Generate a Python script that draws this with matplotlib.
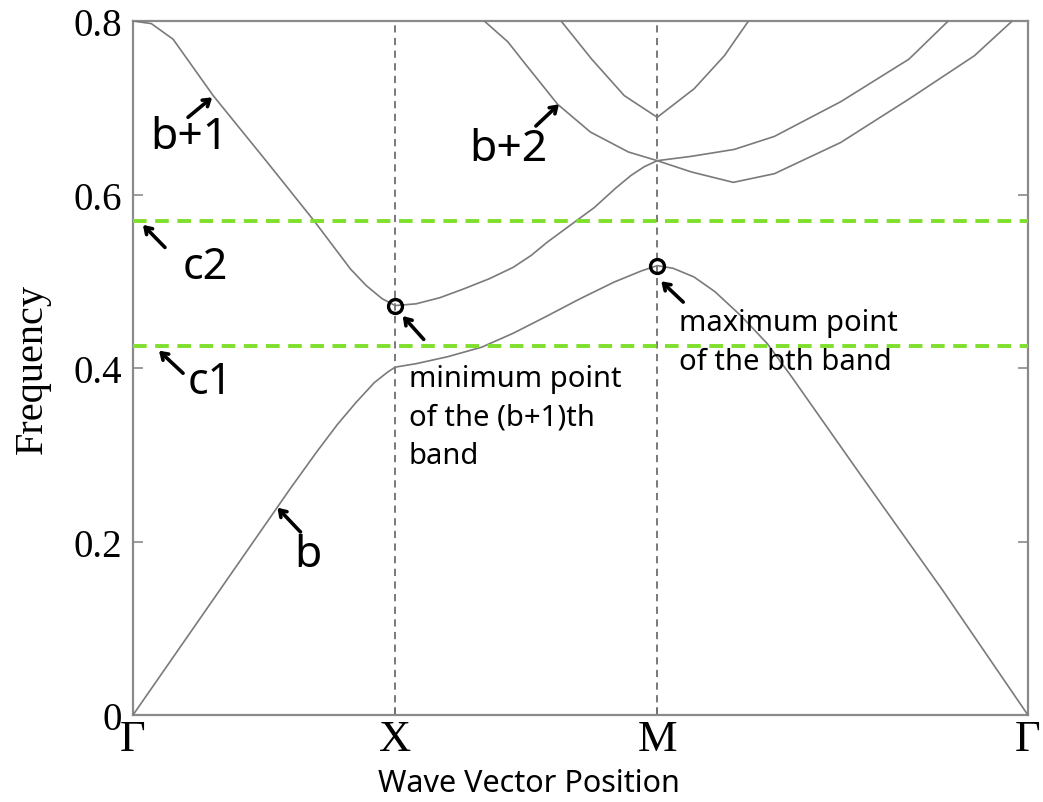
import numpy as np
import matplotlib
matplotlib.use("Agg")
import matplotlib.pyplot as plt

# high-symmetry path Γ-X-M-Γ, distances in units of π/a
kpts = [0.0, 1.0, 2.0, 2.0 + np.sqrt(2)]
klabels = ["Γ", "X", "M", "Γ"]

# b-th band (lowest)
k_b = [0.0, 0.2, 0.4, 0.6, 0.7, 0.78, 0.85, 0.92, 0.97, 1.0, 1.08, 1.2, 1.33, 1.45, 1.58,
       1.7, 1.835, 1.94, 2.0, 2.06, 2.14, 2.22, 2.32, 2.42, 2.51, 2.78, 3.086, 3.414]
f_b = [0.0, 0.087, 0.174, 0.261, 0.303, 0.335, 0.360, 0.383, 0.395, 0.401, 0.405, 0.413,
       0.424, 0.440, 0.460, 0.479, 0.499, 0.512, 0.518, 0.515, 0.505, 0.488, 0.460, 0.428,
       0.391, 0.275, 0.145, 0.0]

# (b+1)-th band
k_b1 = [0.0, 0.07, 0.153, 0.306, 0.51, 0.69, 0.83, 0.89, 0.95, 1.0, 1.08, 1.17, 1.26,
        1.36, 1.45, 1.52, 1.58, 1.67, 1.76, 1.84, 1.9, 1.95, 2.0, 2.13, 2.29, 2.447,
        2.70, 2.96, 3.21, 3.354]
f_b1 = [0.80, 0.797, 0.779, 0.714, 0.638, 0.570, 0.514, 0.495, 0.480, 0.472, 0.474, 0.481,
        0.491, 0.503, 0.516, 0.530, 0.545, 0.565, 0.585, 0.607, 0.622, 0.632, 0.639, 0.626,
        0.614, 0.624, 0.660, 0.710, 0.760, 0.80]

# (b+2)-th band
k_b2 = [1.34, 1.43, 1.49, 1.62, 1.745, 1.89, 2.0, 2.13, 2.294, 2.447, 2.70, 2.96, 3.11]
f_b2 = [0.80, 0.776, 0.753, 0.704, 0.672, 0.649, 0.639, 0.644, 0.652, 0.667, 0.707, 0.756, 0.80]

# (b+3)-th band
k_b3 = [1.633, 1.75, 1.874, 2.0, 2.141, 2.256, 2.348]
f_b3 = [0.80, 0.756, 0.714, 0.689, 0.722, 0.760, 0.80]

# cut-off frequencies
c_levels = [0.425, 0.570]

plt.rcParams["font.family"] = ["Noto Sans", "DejaVu Sans"]

fig = plt.figure(figsize=(10.43, 8.03), dpi=100)
ax = fig.add_axes([0.1275, 0.1083, 0.8581, 0.8643])

line_col = "#7a7a7a"
for k, f in [(k_b, f_b), (k_b1, f_b1), (k_b2, f_b2), (k_b3, f_b3)]:
    ax.plot(k, f, color=line_col, lw=1.2, clip_on=True, zorder=3)

for kx in kpts[1:3]:
    ax.axvline(kx, color="#6e6e6e", lw=1.3, ls=(0, (4, 3)), zorder=2)

for c in c_levels:
    ax.axhline(c, color="#7fe02c", lw=2.8, ls=(0, (3.5, 2.2)), zorder=4)

# band extrema
i_min = int(np.argmin(f_b1[:12]))
i_max = int(np.argmax(f_b))
ax.plot(k_b1[i_min], f_b1[i_min], "o", mfc="none", mec="black", mew=2.4, ms=10, zorder=6)
ax.plot(k_b[i_max], f_b[i_max], "o", mfc="none", mec="black", mew=2.4, ms=10, zorder=6)

arrows = [
    ((0.210, 0.689), (0.302, 0.712)),   # b+1
    ((1.537, 0.679), (1.625, 0.704)),   # b+2
    ((0.122, 0.539), (0.038, 0.565)),   # c2
    ((0.191, 0.394), (0.099, 0.420)),   # c1
    ((0.639, 0.211), (0.551, 0.239)),   # b
    ((1.109, 0.433), (1.029, 0.460)),   # minimum
    ((2.099, 0.476), (2.015, 0.500)),   # maximum
]
for tail, head in arrows:
    ax.annotate("", xy=head, xytext=tail,
                arrowprops=dict(arrowstyle="->,head_length=0.45,head_width=0.3",
                                color="black", lw=2.6, shrinkA=0, shrinkB=0),
                zorder=7)

big = 32
ax.text(0.214, 0.666, "b+1", fontsize=big, ha="center", va="center")
ax.text(1.430, 0.652, "b+2", fontsize=big, ha="center", va="center")
ax.text(0.275, 0.516, "c2", fontsize=big - 1, ha="center", va="center")
ax.text(0.294, 0.384, "c1", fontsize=big - 1, ha="center", va="center")
ax.text(0.669, 0.184, "b", fontsize=big, ha="center", va="center")

ax.text(1.052, 0.405, "minimum point\nof the (b+1)th\nband", fontsize=21,
        ha="left", va="top", linespacing=1.45)
ax.text(2.084, 0.469, "maximum point\nof the bth band", fontsize=21,
        ha="left", va="top", linespacing=1.45)

ax.set_xlim(kpts[0], kpts[-1])
ax.set_ylim(0, 0.8)
ax.set_xticks(kpts)
ax.set_xticklabels(klabels, fontsize=32, family="Liberation Serif")
ax.set_yticks([0, 0.2, 0.4, 0.6, 0.8])
ax.set_yticklabels(["0", "0.2", "0.4", "0.6", "0.8"], fontsize=28, family="Liberation Serif")
ax.tick_params(axis="y", direction="in", length=7, width=1.2, color="#8a8a8a",
               right=True, pad=8)
ax.tick_params(axis="x", direction="in", length=6, width=1.2, color="#8a8a8a", pad=3)

for s in ax.spines.values():
    s.set_color("#8a8a8a")
    s.set_linewidth(1.6)

ax.set_ylabel("Frequency", fontsize=29, family="Liberation Serif", labelpad=16)
fig.text(0.507, 0.024, "Wave Vector Position", fontsize=22, ha="center", va="center")

fig.savefig("out.png", dpi=100)
